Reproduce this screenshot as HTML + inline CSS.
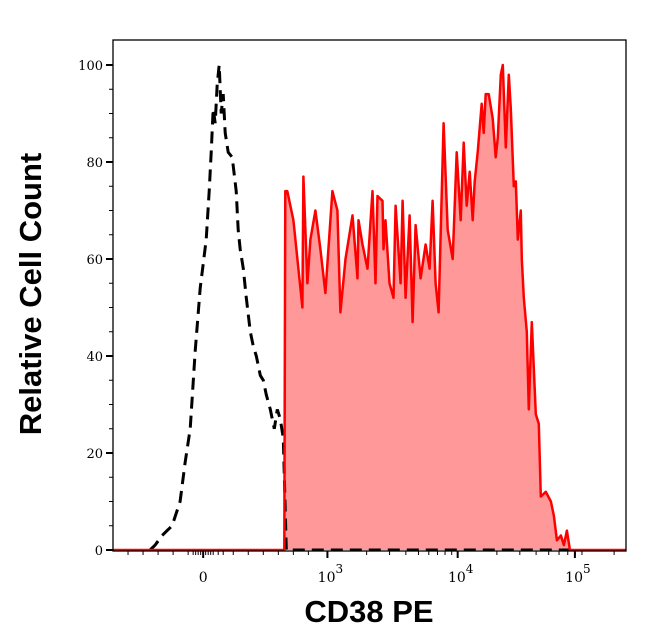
<!DOCTYPE html>
<html><head><meta charset="utf-8">
<style>
html,body{margin:0;padding:0;background:#fff;}
svg{display:block;}
</style></head>
<body>
<svg id="chart" width="646" height="641" viewBox="0 0 646 641" xmlns="http://www.w3.org/2000/svg">
  <g id="fills"></g>
  <g id="lines"></g>
  <g id="axes"></g>
  <text x="41" y="294" transform="rotate(-90 41 294)" text-anchor="middle" font-family="Liberation Sans, sans-serif" font-weight="bold" font-size="31" fill="#000">Relative Cell Count</text>
  <text x="369" y="622" text-anchor="middle" font-family="Liberation Sans, sans-serif" font-weight="bold" font-size="31" fill="#000">CD38 PE</text>
</svg>
<script>
// data in channel units (0..1024) and relative count (0..100)
const redChannels = [342,344,348,360,370,378,380,388,394,404,414,424,438,448,454,464,478,488,490,498,508,518,524,528,538,540,544,552,560,564,574,578,584,592,598,604,614,624,632,638,644,650,660,668,678,686,694,700,706,712,718,722,728,736,740,744,750,758,764,768,774,778,784,790,794,800,804,808,814,816,820,826,830,836,844,850,854,864,874,880,886,894,900,906,912,920];
const redCounts = [0,74,74,68,58,50,77,55,64,70,62,53,74,70,49,60,69,56,68,63,58,74,55,73,72,62,68,55,52,71,55,72,52,69,47,67,56,63,58,72,55,49,88,66,60,82,68,84,71,78,68,76,82,92,86,94,94,89,81,85,98,100,83,98,91,75,76,64,70,60,52,45,29,47,28,26,11,12,10,7,2,3,1,4,0,0];
const blackChannels = [74,84,98,108,118,134,144,154,164,174,180,186,192,196,200,204,208,212,216,220,224,230,238,246,250,254,260,266,274,280,286,294,300,306,314,322,328,334,340,346,920];
const blackCounts = [0,1,3,4,5,10,18,25,41,54,59,64,74,82,91,88,96,100,90,94,86,82,81,74,66,62,58,52,45,42,40,36,35,32,29,25,29,27,23,0,0];
const yTicks = [0,20,40,60,80,100];
const xTickLabels = ["0","3","4","5"];
const xTickChannels = [180,428,688,922];

const X0=113,X1=626,Y0=550,Y1=40;
const xs = c => X0 + c/1024*(X1-X0);
const ys = v => Y0 - v*4.85;
const NS="http://www.w3.org/2000/svg";
function mk(tag,attrs,parent){const e=document.createElementNS(NS,tag);for(const k in attrs)e.setAttribute(k,attrs[k]);parent.appendChild(e);return e;}
const fills=document.getElementById('fills'),lines=document.getElementById('lines'),axes=document.getElementById('axes');

let d=`M${xs(redChannels[0])},${Y0}`;
redChannels.forEach((c,i)=>{d+=` L${xs(c).toFixed(1)},${ys(redCounts[i]).toFixed(1)}`;});
d+=` L${xs(redChannels[redChannels.length-1])},${Y0} Z`;
const rf=mk('path',{d:d,fill:'#ff9999',stroke:'none'},fills);



let bd='';
blackChannels.forEach((c,i)=>{bd+=(i?' L':'M')+xs(c).toFixed(1)+','+ys(blackCounts[i]).toFixed(1);});
const bl=mk('path',{d:bd,fill:'none',stroke:'#000','stroke-width':3,'stroke-dasharray':'12,7'},lines);



let rd=`M${X0},${Y0} L${xs(redChannels[0]).toFixed(1)},${Y0}`;
redChannels.forEach((c,i)=>{rd+=` L${xs(c).toFixed(1)},${ys(redCounts[i]).toFixed(1)}`;});
rd+=` L${X1},${Y0}`;
const rl=mk('path',{d:rd,fill:'none',stroke:'#ff0000','stroke-width':2.5,'stroke-linejoin':'round'},lines);



const fr=mk('rect',{x:X0,y:Y1,width:X1-X0,height:551-Y1,fill:'none',stroke:'#000','stroke-width':1.3},axes);



for(let v=0;v<=100;v+=5){
  const major=v%20===0;
  mk('line',{x1:X0,x2:X0-(major?7:4),y1:ys(v),y2:ys(v),stroke:'#000','stroke-width':major?2:1},axes);
}
yTicks.forEach(v=>{
  const t=mk('text',{x:X0-10,y:ys(v)+5,'text-anchor':'end','font-family':'DejaVu Serif, serif','font-size':13},axes);
  t.textContent=v;
  
  
});

const dec=xTickChannels[2]-xTickChannels[1];
const minorCh=[];
[xTickChannels[1],xTickChannels[2],xTickChannels[3]].forEach(b=>{
  for(let m=2;m<=9;m++){minorCh.push(b+Math.log10(m)*dec);}
});
[30,60,90,120,150,160,165,170,175,185,190,195,200,210,220,240,270,300,330,360,390].forEach(c=>minorCh.push(c));
minorCh.forEach(c=>{ if(c<1024) mk('line',{x1:xs(c),x2:xs(c),y1:551,y2:555,stroke:'#000','stroke-width':1},axes);});
xTickChannels.forEach(c=>mk('line',{x1:xs(c),x2:xs(c),y1:551,y2:558,stroke:'#000','stroke-width':2},axes));
xTickChannels.forEach((c,i)=>{
  const g=mk('text',{x:xs(c)+(i?3:0),y:582,'text-anchor':'middle','font-family':'DejaVu Serif, serif','font-size':14},axes);
  
  
  if(i===0){g.textContent=xTickLabels[0];}
  else{
    const a=mk('tspan',{},g);a.textContent='10';
    const b=mk('tspan',{dy:-9,'font-size':12},g);b.textContent=xTickLabels[i];
  }
});
</script>
</body></html>
